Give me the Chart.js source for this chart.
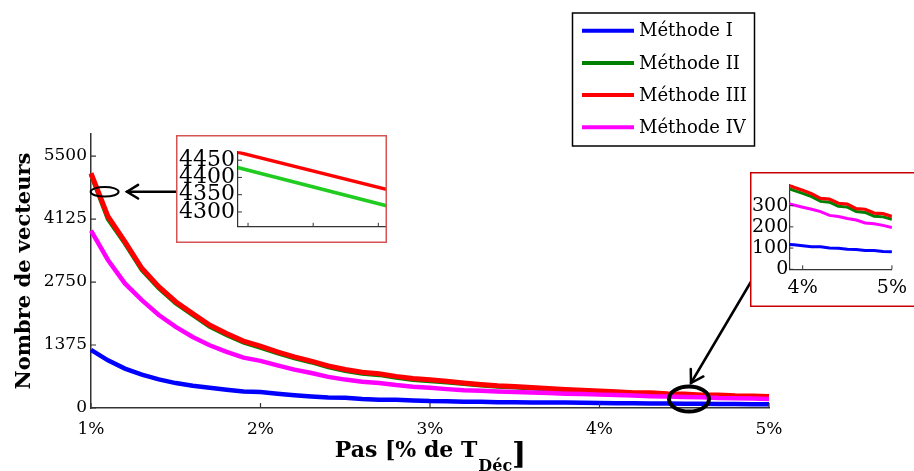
<!DOCTYPE html>
<html><head><meta charset="utf-8">
<script src="https://cdn.jsdelivr.net/npm/chart.js@4/dist/chart.umd.min.js"></script>
<style>
html,body{margin:0;padding:0;background:#fff;overflow:hidden}
#wrap{position:relative;width:914px;height:471px}
canvas{position:absolute;display:block}
</style></head><body>
<div id="wrap">
<canvas id="main" width="914" height="471" style="left:0;top:0"></canvas>
<canvas id="inset1" width="211" height="108" style="left:176px;top:135px"></canvas>
<canvas id="inset2" width="164" height="135" style="left:750px;top:172px"></canvas>
</div>
<script>
// ---- data ----
const xSteps = [1.0,1.1,1.2,1.3,1.4,1.5,1.6,1.7,1.8,1.9,2.0,2.1,2.2,2.3,2.4,2.5,2.6,2.7,2.8,2.9,3.0,3.1,3.2,3.3,3.4,3.5,3.6,3.7,3.8,3.9,4.0,4.1,4.2,4.3,4.4,4.5,4.6,4.7,4.8,4.9,5.0];
const methodI   = [1270,1040,860,727,624,544,486,442,400,362,350,312,278,252,230,222,195,182,178,164,152,149,138,134,126,124,121,118,118,116,111,106,106,100,99,94,93,89,89,84,83];
const methodII  = [5100,4130,3595,3015,2615,2285,2030,1780,1595,1430,1320,1200,1090,1000,895,815,755,723,665,617,592,564,527,497,470,452,432,409,388,372,358,342,320,316,297,293,272,268,250,247,236];
const methodIII = [5125,4183,3630,3050,2650,2320,2060,1810,1625,1460,1350,1225,1115,1025,920,840,780,748,690,642,617,582,545,515,488,470,450,427,405,387,372,356,334,331,311,307,286,283,265,262,249];
const methodIV  = [3870,3232,2720,2355,2030,1770,1552,1370,1225,1100,1030,931,837,763,680,620,575,545,500,465,442,412,388,376,362,350,338,326,313,303,292,283,272,254,249,239,232,218,215,207,197];
const seriesLabels = ['Méthode I','Méthode II','Méthode III','Méthode IV'];
const yTicks = [0,1375,2750,4125,5500];
const xTicks = [1,2,3,4,5];
const xTickLabels = ['1%','2%','3%','4%','5%'];
const inset1YTicks = [4300,4350,4400,4450];
const inset1XTicks = [1.07,1.075,1.08];
const inset2YTicks = [0,100,200,300];
const inset2XTicks = [4,5];
const inset2XTickLabels = ['4%','5%'];
const yTitle = 'Nombre de vecteurs';
const xTitleMain = 'Pas [% de T';
const xTitleSub = 'Déc';
const xTitleEnd = ']';

// ---- styles ----
const seriesColors = ['#0000ff','#008000','#ff0000','#ff00ff'];
const FONT = '"DejaVu Serif", serif';
Chart.defaults.font.family = FONT;
Chart.defaults.color = '#000';

const series = [methodI, methodII, methodIII, methodIV];
const toPts = arr => xSteps.map((x, i) => ({x: x, y: arr[i]}));

function inwardTicks(chart, xt, yt, len, color, lw) {
  const ctx = chart.ctx, xs = chart.scales.x, ys = chart.scales.y, ca = chart.chartArea;
  ctx.save();
  ctx.strokeStyle = color; ctx.lineWidth = lw;
  ctx.beginPath();
  xt.forEach(v => { const p = xs.getPixelForValue(v); ctx.moveTo(p, ca.bottom); ctx.lineTo(p, ca.bottom - len); });
  yt.forEach(v => { const p = ys.getPixelForValue(v); ctx.moveTo(ca.left, p); ctx.lineTo(ca.left + len, p); });
  ctx.stroke();
  ctx.restore();
}

function arrow(ctx, x0, y0, x1, y1, head, lw) {
  ctx.save();
  ctx.strokeStyle = '#000'; ctx.lineWidth = lw; ctx.lineCap = 'round';
  ctx.beginPath(); ctx.moveTo(x0, y0); ctx.lineTo(x1, y1); ctx.stroke();
  const a = Math.atan2(y0 - y1, x0 - x1);
  ctx.beginPath();
  ctx.moveTo(x1 + head * Math.cos(a + 0.55), y1 + head * Math.sin(a + 0.55));
  ctx.lineTo(x1, y1);
  ctx.lineTo(x1 + head * Math.cos(a - 0.55), y1 + head * Math.sin(a - 0.55));
  ctx.stroke();
  ctx.restore();
}

const mainDeco = {
  id: 'mainDeco',
  afterDraw(chart) {
    const ctx = chart.ctx, ca = chart.chartArea;
    inwardTicks(chart, xTicks, yTicks, 5, '#333', 1.2);
    // y title
    ctx.save();
    ctx.fillStyle = '#000';
    ctx.font = 'bold 21px ' + FONT;
    ctx.textAlign = 'center'; ctx.textBaseline = 'alphabetic';
    ctx.translate(29.5, (ca.top + ca.bottom) / 2);
    ctx.rotate(-Math.PI / 2);
    ctx.fillText(yTitle, 0, 0);
    ctx.restore();
    // x title with subscript
    ctx.save();
    ctx.fillStyle = '#000'; ctx.textBaseline = 'alphabetic'; ctx.textAlign = 'left';
    const fMain = 'bold 22px ' + FONT, fSub = 'bold 16px ' + FONT, fEnd = 'bold 30px ' + FONT;
    ctx.font = fMain; const w1 = ctx.measureText(xTitleMain).width;
    ctx.font = fSub; const w2 = ctx.measureText(xTitleSub).width;
    ctx.font = fEnd; const w3 = ctx.measureText(xTitleEnd).width;
    let x0 = (ca.left + ca.right) / 2 - (w1 + w2 + w3) / 2;
    ctx.font = fMain; ctx.fillText(xTitleMain, x0, 457);
    ctx.font = fSub; ctx.fillText(xTitleSub, x0 + w1 + 1, 471);
    ctx.font = fEnd; ctx.fillText(xTitleEnd, x0 + w1 + w2 + 1, 464);
    ctx.restore();
    // legend
    ctx.save();
    ctx.fillStyle = '#fff'; ctx.fillRect(572.5, 13, 182, 133);
    ctx.strokeStyle = '#000'; ctx.lineWidth = 1.5; ctx.strokeRect(572.5, 13, 182, 133);
    ctx.font = '18px ' + FONT; ctx.textBaseline = 'middle'; ctx.textAlign = 'left'; ctx.fillStyle = '#000';
    chart.data.datasets.forEach((d, i) => {
      const y = 30.7 + i * 32.2;
      ctx.strokeStyle = d.borderColor; ctx.lineWidth = 4;
      ctx.beginPath(); ctx.moveTo(582, y); ctx.lineTo(634, y); ctx.stroke();
      ctx.fillText(d.label, 639, y + 1);
    });
    ctx.restore();
    // ellipses and arrows
    ctx.save();
    ctx.strokeStyle = '#000';
    ctx.lineWidth = 2;
    ctx.beginPath(); ctx.ellipse(104.6, 191.8, 14, 4.8, 0, 0, Math.PI * 2); ctx.stroke();
    ctx.lineWidth = 4;
    ctx.beginPath(); ctx.ellipse(689, 399, 20, 12.5, 0, 0, Math.PI * 2); ctx.stroke();
    ctx.restore();
    arrow(ctx, 176, 191.7, 127, 191.7, 13, 2.5);
    arrow(ctx, 752, 280, 691, 383, 14, 2.5);
  }
};

new Chart(document.getElementById('main'), {
  type: 'line',
  data: {
    datasets: series.map((s, i) => ({
      label: seriesLabels[i], data: toPts(s), borderColor: seriesColors[i],
      borderWidth: [4.5, 4.5, 5, 4.5][i], pointRadius: 0, tension: 0, order: 4 - i, clip: 4
    }))
  },
  options: {
    responsive: false, animation: false, devicePixelRatio: 1,
    layout: {padding: {left: 0, top: 134, right: 145, bottom: 0}},
    plugins: {legend: {display: false}, tooltip: {enabled: false}},
    scales: {
      x: {
        type: 'linear', min: 1, max: 5,
        afterFit: s => { s.height = 63; },
        afterBuildTicks: s => { s.ticks = xTicks.map(v => ({value: v})); },
        ticks: {callback: (v, i) => xTickLabels[i], font: {size: 17}, padding: 11, maxRotation: 0, autoSkip: false},
        grid: {display: false, drawTicks: false},
        border: {display: true, color: '#333', width: 1.5}
      },
      y: {
        type: 'linear', min: 0, max: 5982,
        afterFit: s => { s.width = 91; },
        afterBuildTicks: s => { s.ticks = yTicks.map(v => ({value: v})); },
        ticks: {callback: (v, i) => String(yTicks[i]), font: {size: 17}, padding: 4, autoSkip: false},
        grid: {display: false, drawTicks: false},
        border: {display: true, color: '#333', width: 1.5}
      }
    }
  },
  plugins: [mainDeco]
});

// ---- inset 1 (zoom near 1%) ----
new Chart(document.getElementById('inset1'), {
  type: 'line',
  data: {
    datasets: [
      {label: seriesLabels[1], data: toPts(methodII), borderColor: '#1fcc1f', borderWidth: 3.5, pointRadius: 0, order: 1},
      {label: seriesLabels[2], data: toPts(methodIII), borderColor: '#ff0000', borderWidth: 3.5, pointRadius: 0, order: 0}
    ]
  },
  options: {
    responsive: false, animation: false, devicePixelRatio: 1,
    layout: {padding: {left: 0, top: 13, right: 1, bottom: 0}},
    plugins: {legend: {display: false}, tooltip: {enabled: false}},
    scales: {
      x: {
        type: 'linear', min: 1.06923, max: 1.08059,
        afterFit: s => { s.height = 6; },
        afterBuildTicks: s => { s.ticks = inset1XTicks.map(v => ({value: v})); },
        ticks: {display: false},
        grid: {display: false, drawTicks: false},
        border: {display: true, color: '#333', width: 1.2}
      },
      y: {
        type: 'linear', min: 4257, max: 4476,
        afterFit: s => { s.width = 62; },
        afterBuildTicks: s => { s.ticks = inset1YTicks.map(v => ({value: v})); },
        ticks: {callback: (v, i) => String(inset1YTicks[i]), font: {size: 22}, padding: 3, autoSkip: false},
        grid: {display: false, drawTicks: false},
        border: {display: true, color: '#333', width: 1.2}
      }
    }
  },
  plugins: [{
    id: 'box1',
    beforeDraw(chart) { const c = chart.ctx; c.save(); c.fillStyle = '#fff'; c.fillRect(0, 0, chart.width, chart.height); c.restore(); },
    afterDraw(chart) {
      inwardTicks(chart, inset1XTicks, inset1YTicks, 4, '#333', 1);
      const c = chart.ctx; c.save(); c.strokeStyle = '#d45454'; c.lineWidth = 1.5;
      c.strokeRect(0.75, 0.75, chart.width - 1.5, chart.height - 1.5); c.restore();
    }
  }]
});

// ---- inset 2 (zoom 3.85% - 5%) ----
new Chart(document.getElementById('inset2'), {
  type: 'line',
  data: {
    datasets: series.map((s, i) => ({
      label: seriesLabels[i], data: toPts(s), borderColor: seriesColors[i],
      borderWidth: [3, 3, 3.2, 3][i], pointRadius: 0, tension: 0, order: 4 - i
    }))
  },
  options: {
    responsive: false, animation: false, devicePixelRatio: 1,
    layout: {padding: {left: 0, top: 2.5, right: 16.3, bottom: 0}},
    plugins: {legend: {display: false}, tooltip: {enabled: false}},
    scales: {
      x: {
        type: 'linear', min: 3.85, max: 5,
        afterFit: s => { s.height = 37.7; },
        afterBuildTicks: s => { s.ticks = inset2XTicks.map(v => ({value: v})); },
        ticks: {callback: (v, i) => inset2XTickLabels[i], font: {size: 19}, padding: 7, maxRotation: 0, autoSkip: false},
        grid: {display: false, drawTicks: false},
        border: {display: true, color: '#333', width: 1.2}
      },
      y: {
        type: 'linear', min: 0, max: 400,
        afterFit: s => { s.width = 39.3; },
        afterBuildTicks: s => { s.ticks = inset2YTicks.map(v => ({value: v})); },
        ticks: {callback: (v, i) => String(inset2YTicks[i]), font: {size: 19}, padding: 1, autoSkip: false},
        grid: {display: false, drawTicks: false},
        border: {display: true, color: '#333', width: 1.2}
      }
    }
  },
  plugins: [{
    id: 'box2',
    beforeDraw(chart) { const c = chart.ctx; c.save(); c.fillStyle = '#fff'; c.fillRect(0, 0, chart.width, chart.height); c.restore(); },
    afterDraw(chart) {
      inwardTicks(chart, inset2XTicks, inset2YTicks, 4, '#333', 1);
      const c = chart.ctx; c.save(); c.strokeStyle = '#c80000'; c.lineWidth = 1.5;
      c.strokeRect(0.75, 0.75, chart.width + 10, chart.height - 1.5); c.restore();
    }
  }]
});
</script>
</body></html>
